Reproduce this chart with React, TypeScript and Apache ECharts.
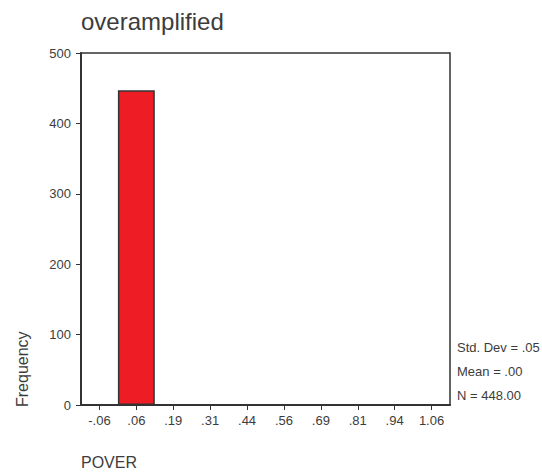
import React, { useEffect, useRef } from "react";
import * as echarts from "echarts";

const categories = ["-.06", ".06", ".19", ".31", ".44", ".56", ".69", ".81", ".94", "1.06"];
const frequencies = [0, 447, 0, 0, 0, 0, 0, 0, 0, 1];
const yTicks = { min: 0, max: 500, interval: 100 };
const statsLines = ["Std. Dev = .05", "Mean = .00", "N = 448.00"];
const titleText = "overamplified";
const xName = "POVER";
const yName = "Frequency";

const FONT = "'Liberation Sans', Arial, sans-serif";
const TXT = "#3c3c3c";

export default function App() {
  const ref = useRef<HTMLDivElement>(null);
  useEffect(() => {
    if (!ref.current) return;
    const chart = echarts.init(ref.current, null, { renderer: "svg" });
    chart.setOption({
      animation: false,
      backgroundColor: "#ffffff",
      textStyle: { fontFamily: FONT },
      title: {
        text: titleText,
        left: 76,
        top: 4,
        textStyle: { fontSize: 24, fontWeight: "normal", color: TXT, fontFamily: FONT },
      },
      grid: {
        left: 81,
        right: 92,
        top: 53,
        bottom: 68,
        show: true,
        borderColor: "#333",
        borderWidth: 1.5,
        backgroundColor: "transparent",
      },
      xAxis: {
        type: "category",
        data: categories,
        boundaryGap: true,
        axisLine: { show: true, lineStyle: { color: "#333", width: 2 } },
        axisTick: { show: true, alignWithLabel: true, length: 5, lineStyle: { color: "#333" } },
        axisLabel: { color: TXT, fontSize: 13, margin: 9, fontFamily: FONT },
        splitLine: { show: false },
      },
      yAxis: {
        type: "value",
        min: yTicks.min,
        max: yTicks.max,
        interval: yTicks.interval,
        axisLine: { show: true, lineStyle: { color: "#333", width: 2 } },
        axisTick: { show: true, length: 5, lineStyle: { color: "#333" } },
        axisLabel: { color: TXT, fontSize: 13, margin: 10, fontFamily: FONT },
        splitLine: { show: false },
      },
      series: [
        {
          type: "bar",
          data: frequencies,
          barWidth: "100%",
          barCategoryGap: "0%",
          itemStyle: { color: "#ee1c25", borderColor: "#333", borderWidth: 1.5 },
        },
      ],
      graphic: [
        {
          type: "text",
          left: 81,
          top: 454,
          style: { text: xName, fontSize: 16, fill: TXT, fontFamily: FONT },
        },
        {
          type: "text",
          x: 14,
          y: 407,
          rotation: Math.PI / 2,
          style: { text: yName, fontSize: 16, fill: TXT, fontFamily: FONT, align: "left", verticalAlign: "top" },
        },
        ...statsLines.map((t, i) => ({
          type: "text",
          left: 457,
          top: 341 + i * 24,
          style: { text: t, fontSize: 13, fill: TXT, fontFamily: FONT },
        })),
      ],
    });
    return () => chart.dispose();
  }, []);
  return <div ref={ref} style={{ width: 542, height: 473, position: "absolute", left: 0, top: 0 }} />;
}
